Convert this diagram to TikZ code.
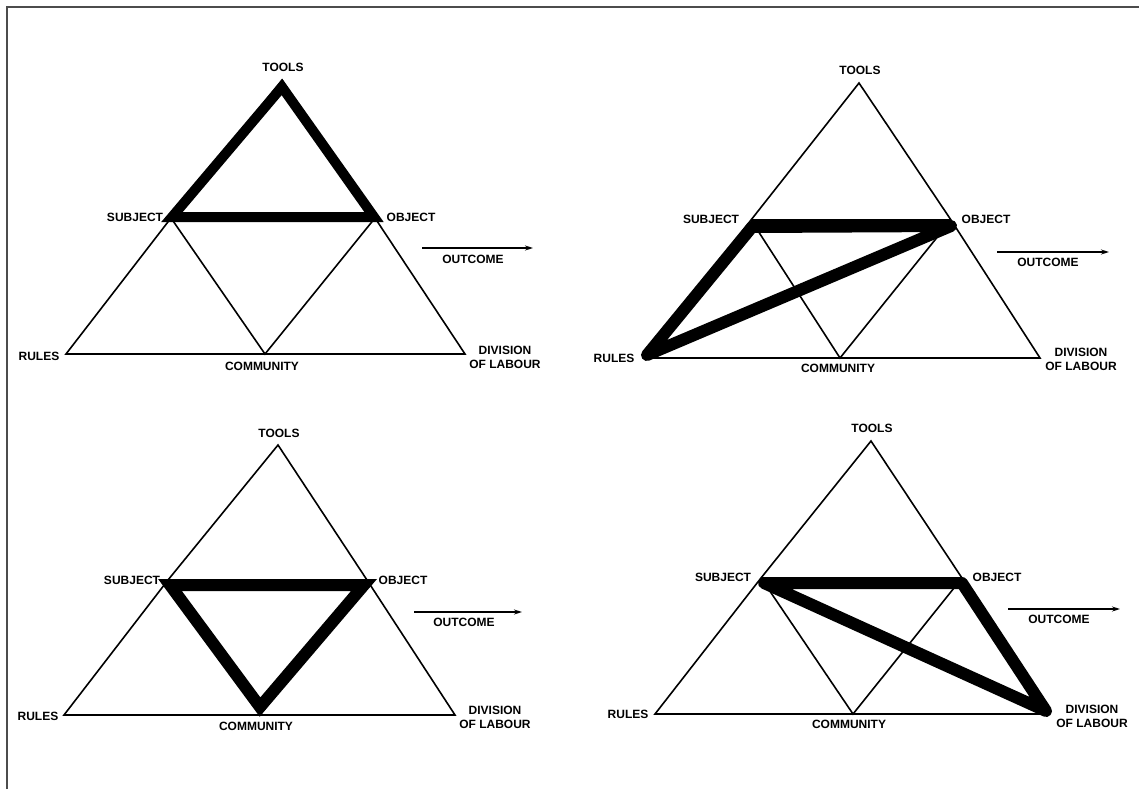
\documentclass[tikz,border=0pt]{standalone}
\usepackage{fontspec}
\setmainfont{Liberation Sans}
\usetikzlibrary{arrows.meta}
\tikzset{
  wire/.style={line width=1.6pt, black, line join=miter},
  hl/.style={line width=12pt, black, line join=round},
  lbl/.style={font=\fontsize{12}{14}\selectfont\bfseries, inner sep=0pt, align=center},
  outarrow/.style={line width=1.4pt, black, -{Stealth[length=8pt,width=5pt]}},
  framestyle/.style={line width=2pt, black!70}
}
\begin{document}
\begin{tikzpicture}[x=1pt,y=-1pt]
\useasboundingbox (0,0) rectangle (1139,789);
\fill[white] (0,0) rectangle (1139,789);
% frame
\coordinate (fbl) at (7,789);
\coordinate (ftl) at (7,7);
\coordinate (ftr) at (1139,7);
\draw[framestyle] (fbl) -- (ftl) -- (ftr);

% ================= Panel 1 =================
\coordinate (T1) at (282,80);
\coordinate (S1) at (171,218);
\coordinate (O1) at (375,218);
\coordinate (R1) at (66,354);
\coordinate (C1) at (265,354);
\coordinate (D1) at (465,354);
\draw[wire] (R1) -- (S1) -- (T1) -- (O1) -- (D1) -- cycle;
\draw[wire] (S1) -- (C1) -- (O1);
\draw[wire] (S1) -- (O1);
\coordinate (hS1) at (172,217);
\coordinate (hT1) at (282,87);
\coordinate (hO1) at (374,217);
\draw[hl, line width=10pt, line join=miter] (hS1) -- (hT1) -- (hO1) -- cycle;
\node[lbl] (tools1) at (283,67) {TOOLS};
\node[lbl] (subj1) at (135,217) {SUBJECT};
\node[lbl] (obj1) at (411,217) {OBJECT};
\node[lbl] (rules1) at (39,356) {RULES};
\node[lbl] (comm1) at (262,366) {COMMUNITY};
\node[lbl] (div1) at (505,357) {DIVISION\\OF LABOUR};
\coordinate (oa1) at (422,248);
\coordinate (ob1) at (533,248);
\draw[outarrow] (oa1) -- (ob1);
\node[lbl] (out1) at (473,259) {OUTCOME};

% ================= Panel 2 =================
\coordinate (T2) at (859,83);
\coordinate (S2) at (751,220);
\coordinate (O2) at (951,220);
\coordinate (R2) at (645,358);
\coordinate (C2) at (840,358);
\coordinate (D2) at (1040,358);
\draw[wire] (R2) -- (S2) -- (T2) -- (O2) -- (D2) -- cycle;
\draw[wire] (S2) -- (C2) -- (O2);
\draw[wire] (S2) -- (O2);
\coordinate (hS2) at (752,227);
\coordinate (hO2) at (951,226);
\coordinate (hR2) at (647,355);
\draw[hl] (hS2) -- (hO2) -- (hR2) -- cycle;
\node[lbl] (tools2) at (860,70) {TOOLS};
\node[lbl] (subj2) at (711,219) {SUBJECT};
\node[lbl] (obj2) at (986,219) {OBJECT};
\node[lbl] (rules2) at (614,358) {RULES};
\node[lbl] (comm2) at (838,368) {COMMUNITY};
\node[lbl] (div2) at (1081,359) {DIVISION\\OF LABOUR};
\coordinate (oa2) at (997,252);
\coordinate (ob2) at (1109,252);
\draw[outarrow] (oa2) -- (ob2);
\node[lbl] (out2) at (1048,262) {OUTCOME};

% ================= Panel 3 =================
\coordinate (T3) at (278,445);
\coordinate (S3) at (168,580);
\coordinate (O3) at (367,580);
\coordinate (R3) at (64,715);
\coordinate (C3) at (260,715);
\coordinate (D3) at (455,715);
\draw[wire] (R3) -- (S3) -- (T3) -- (O3) -- (D3) -- cycle;
\draw[wire] (S3) -- (C3) -- (O3);
\draw[wire] (S3) -- (O3);
\coordinate (hS3) at (170,585);
\coordinate (hO3) at (364,585);
\coordinate (hC3) at (260,707);
\draw[hl, line join=miter] (hS3) -- (hO3) -- (hC3) -- cycle;
\node[lbl] (tools3) at (279,433) {TOOLS};
\node[lbl] (subj3) at (132,580) {SUBJECT};
\node[lbl] (obj3) at (403,580) {OBJECT};
\node[lbl] (rules3) at (38,716) {RULES};
\node[lbl] (comm3) at (256,726) {COMMUNITY};
\node[lbl] (div3) at (495,717) {DIVISION\\OF LABOUR};
\coordinate (oa3) at (414,612);
\coordinate (ob3) at (522,612);
\draw[outarrow] (oa3) -- (ob3);
\node[lbl] (out3) at (464,622) {OUTCOME};

% ================= Panel 4 =================
\coordinate (T4) at (871,441);
\coordinate (S4) at (761,578);
\coordinate (O4) at (962,578);
\coordinate (R4) at (655,714);
\coordinate (C4) at (853,714);
\coordinate (D4) at (1045,714);
\draw[wire] (R4) -- (S4) -- (T4) -- (O4) -- (D4) -- cycle;
\draw[wire] (S4) -- (C4) -- (O4);
\draw[wire] (S4) -- (O4);
\coordinate (hS4) at (764,583);
\coordinate (hO4) at (962,583);
\coordinate (hD4) at (1046,711);
\draw[hl] (hS4) -- (hO4) -- (hD4) -- cycle;
\node[lbl] (tools4) at (872,428) {TOOLS};
\node[lbl] (subj4) at (723,577) {SUBJECT};
\node[lbl] (obj4) at (997,577) {OBJECT};
\node[lbl] (rules4) at (628,714) {RULES};
\node[lbl] (comm4) at (849,724) {COMMUNITY};
\node[lbl] (div4) at (1092,716) {DIVISION\\OF LABOUR};
\coordinate (oa4) at (1008,609);
\coordinate (ob4) at (1120,609);
\draw[outarrow] (oa4) -- (ob4);
\node[lbl] (out4) at (1059,619) {OUTCOME};
\end{tikzpicture}
\end{document}
